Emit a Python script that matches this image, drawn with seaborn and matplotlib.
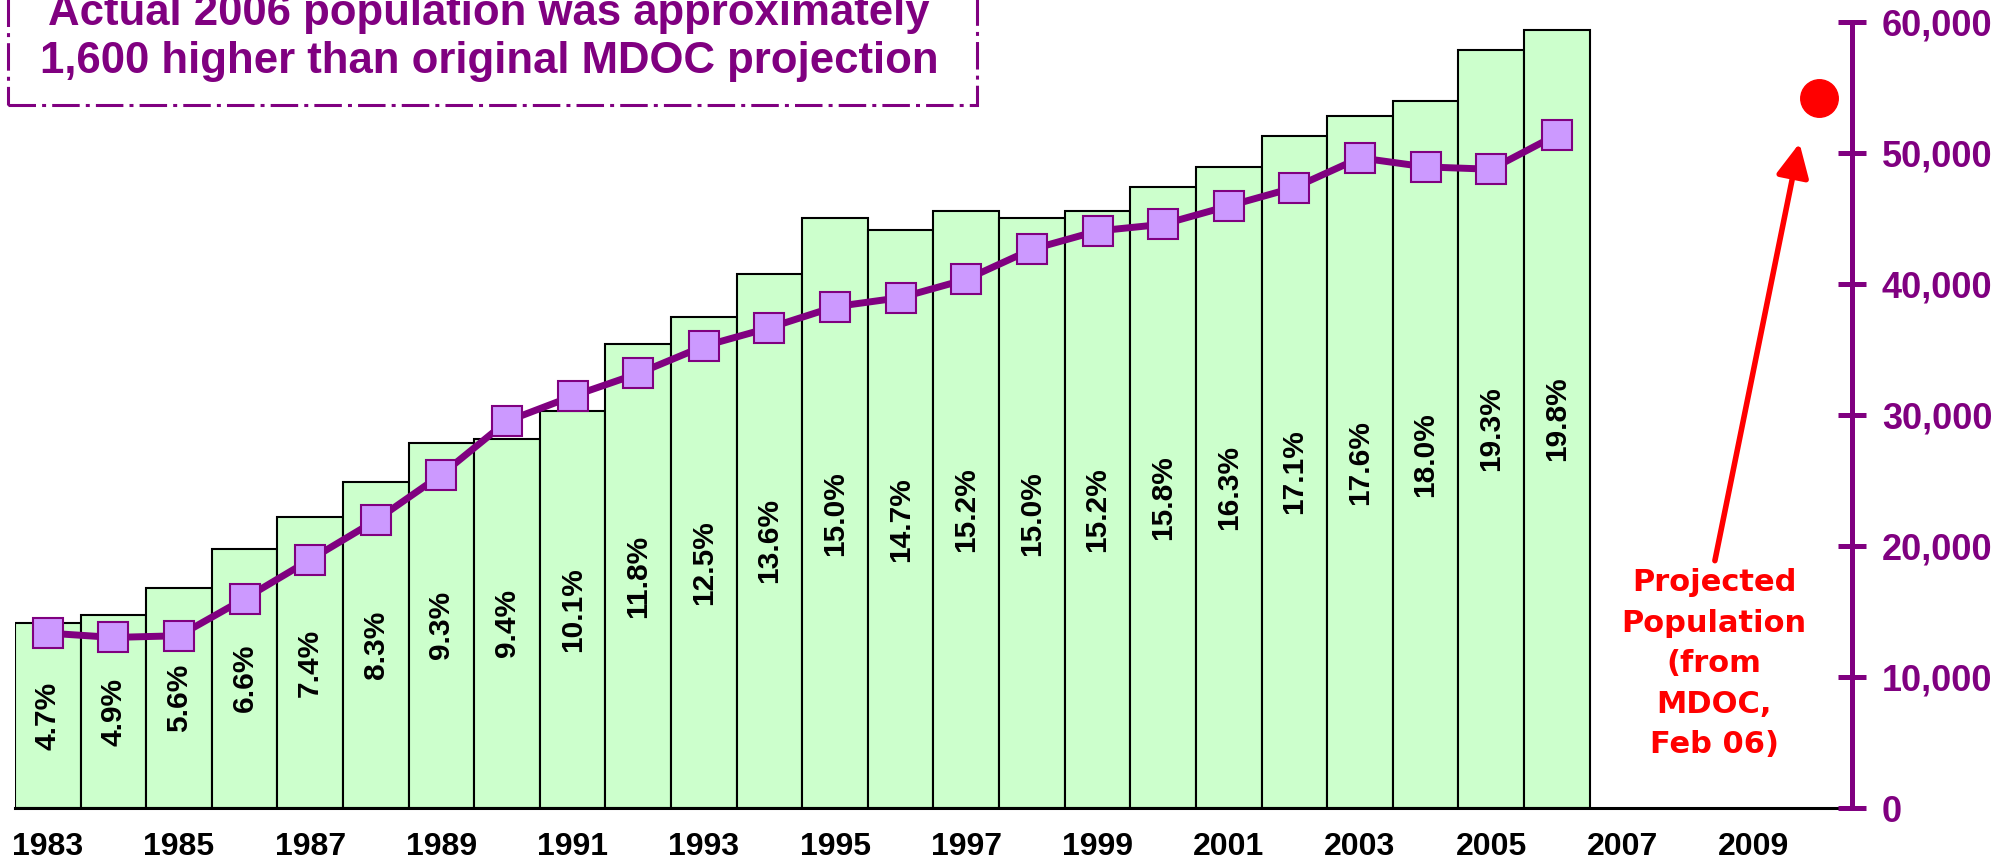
import matplotlib
matplotlib.use("Agg")
import matplotlib.pyplot as plt
import matplotlib.patches as mpatches
from matplotlib.ticker import StrMethodFormatter
import seaborn as sns
import pandas as pd

# categories on the x axis (one slot per year)
years = [1983, 1984, 1985, 1986, 1987, 1988, 1989, 1990, 1991, 1992,
         1993, 1994, 1995, 1996, 1997, 1998, 1999, 2000, 2001, 2002,
         2003, 2004, 2005, 2006, 2007, 2008, 2009, 2010]

# bars: percentage (hidden 0-20% axis)
bar_years = [1983, 1984, 1985, 1986, 1987, 1988, 1989, 1990, 1991, 1992,
             1993, 1994, 1995, 1996, 1997, 1998, 1999, 2000, 2001, 2002,
             2003, 2004, 2005, 2006]
pct = [4.7, 4.9, 5.6, 6.6, 7.4, 8.3, 9.3, 9.4, 10.1, 11.8,
       12.5, 13.6, 15.0, 14.7, 15.2, 15.0, 15.2, 15.8, 16.3, 17.1,
       17.6, 18.0, 19.3, 19.8]

# line: population (right axis)
population = [13350, 13020, 13150, 15980, 18960, 21960, 25450, 29530, 31440, 33170,
              35260, 36660, 38270, 38960, 40360, 42650, 44050, 44560, 45960, 47360,
              49630, 48940, 48760, 51390]

projected_year = 2010
projected_pop = 54200

purple = '#800080'
green = '#CCFFCC'
lavender = '#CC99FF'

sns.set_style('white')
plt.rcParams['font.family'] = ['Liberation Sans', 'DejaVu Sans']
plt.rcParams['font.weight'] = 'bold'

fig = plt.figure(figsize=(20.11, 8.64), dpi=100)
ax = fig.add_axes([15 / 2011, 56 / 864, (1852 - 15) / 2011, (808 - 22) / 864])

order = [str(y) for y in years]
df = pd.DataFrame({'year': [str(y) for y in bar_years], 'pct': pct})
sns.barplot(data=df, x='year', y='pct', order=order, color=green, saturation=1,
            edgecolor='black', linewidth=1.5, width=1.0, ax=ax)
ax.bar_label(ax.containers[0], fmt='%.1f%%', label_type='center', rotation=90,
             fontsize=21.5, fontweight='bold', color='black')
ax.set_ylim(0, 20)
ax.set_xlim(-0.5, len(years) - 0.5)
ax.set_xlabel('')
ax.set_ylabel('')
ax.set_yticks([])
for s in ['top', 'left', 'right']:
    ax.spines[s].set_visible(False)
ax.spines['bottom'].set_linewidth(2.2)
ax.spines['bottom'].set_color('black')

ax.set_xticks(range(0, len(years), 2))
ax.set_xticklabels([str(y) for y in years[::2]], fontsize=23, fontweight='bold')
ax.set_xticks([i - 0.5 for i in range(len(years) - 1)], minor=True)
ax.tick_params(axis='x', which='major', length=0, pad=17, colors='black')
ax.tick_params(axis='x', which='minor', length=7.2, width=1.5, direction='out',
               color='black')

ax2 = ax.twinx()
xi = [years.index(y) for y in bar_years]
sns.lineplot(x=xi, y=population, ax=ax2, color=purple, lw=5.0, marker='s',
             markersize=22.3, markerfacecolor=lavender, markeredgecolor=purple,
             markeredgewidth=1.5)
ax2.plot([years.index(projected_year)], [projected_pop], 'o', color='red', ms=27,
         mec='red')
ax2.set_ylim(0, 60000)
ax2.set_xlim(-0.5, len(years) - 0.5)
ax2.set_yticks(range(0, 60001, 10000))
ax2.yaxis.set_major_formatter(StrMethodFormatter('{x:,.0f}'))
ax2.tick_params(axis='y', direction='inout', length=20, width=3.6, color=purple,
                labelcolor=purple, pad=11.5)
for lab in ax2.get_yticklabels():
    lab.set_fontweight('bold')
    lab.set_fontsize(26)
for s in ['top', 'left', 'bottom']:
    ax2.spines[s].set_visible(False)
ax2.spines['right'].set_color(purple)
ax2.spines['right'].set_linewidth(3.6)
ax2.set_ylabel('')

# projection annotation
ax2.annotate('', xy=(26.7, 50750), xytext=(25.41, 18880),
             arrowprops=dict(arrowstyle='-|>,head_length=0.45,head_width=0.22',
                             color='red', lw=4, mutation_scale=45,
                             shrinkA=0, shrinkB=0))
ax2.text(25.4, 11000, 'Projected\nPopulation\n(from\nMDOC,\nFeb 06)',
         ha='center', va='center', color='red', fontsize=22, fontweight='bold',
         family='DejaVu Sans', linespacing=1.5)

# top-left note box
box = mpatches.Rectangle((8 / 2011, 1 - 105 / 864), (977 - 8) / 2011, 0.3,
                         transform=fig.transFigure, fill=False, edgecolor=purple,
                         lw=2.2, linestyle=(0, (9, 2, 1.3, 2)), clip_on=False)
fig.patches.append(box)
fig.text(489 / 2011, 1 - 25 / 864, 'Actual 2006 population was approximately',
         ha='center', va='baseline', color=purple, fontsize=31.5, fontweight='bold')
fig.text(489 / 2011, 1 - 73 / 864, '1,600 higher than original MDOC projection',
         ha='center', va='baseline', color=purple, fontsize=31.5, fontweight='bold')

fig.savefig('out.png', dpi=100)
